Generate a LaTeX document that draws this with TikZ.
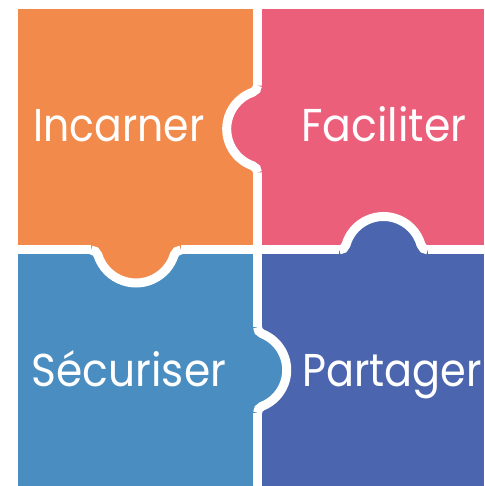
\documentclass[tikz,border=0pt]{standalone}
\usepackage{fontspec}
\setmainfont{Poppins}
\definecolor{corange}{HTML}{F28A4B}
\definecolor{cpink}{HTML}{EC5F7B}
\definecolor{cblue}{HTML}{4A8DC0}
\definecolor{cdblue}{HTML}{4B65AE}
\tikzset{
  gapline/.style={white, line width=9pt, line cap=butt},
  wordtext/.style={text=white, font=\fontsize{46}{50}\selectfont, anchor=base, inner sep=0pt},
}
% #1 X, #2 Y, #3 rotation, #4 radius, #5 centre offset, #6 colour
\newcommand{\puzzletab}[6]{%
  \pgfmathsetmacro{\tabd}{sqrt((#4+7)^2-(#5+7)^2)}%
  \pgfmathsetmacro{\taba}{atan((#5+7)/\tabd)}%
  \pgfmathsetmacro{\tabn}{-\taba}%
  \pgfmathsetmacro{\tabb}{180-\taba}%
  \pgfmathsetmacro{\tabc}{\taba-180}%
  \begin{scope}[shift={(#1,#2)}, rotate=#3]
    \fill[#6] (-\tabd,0) arc[start angle=-90, end angle=\tabn, radius=7]
      arc[start angle=\tabb, end angle=\taba, radius=#4]
      arc[start angle=\tabc, end angle=-90, radius=7]
      -- (\tabd,-50) -- (-\tabd,-50) -- cycle;
    \draw[gapline] (-\tabd,0) arc[start angle=-90, end angle=\tabn, radius=7]
      arc[start angle=\tabb, end angle=\taba, radius=#4]
      arc[start angle=\tabc, end angle=-90, radius=7];
  \end{scope}}
\begin{document}
\begin{tikzpicture}[x=1pt,y=1pt]
  \useasboundingbox (0,0) rectangle (484,486);
  \fill[white] (0,0) rectangle (484,486);
  % pieces
  \fill[corange] (18,236) rectangle (257.5,477);
  \fill[cpink] (257.5,236) rectangle (484,477);
  \fill[cblue] (18,0) rectangle (257.5,236);
  \fill[cdblue] (257.5,0) rectangle (484,236);
  % gaps
  \coordinate (vtop) at (257.5,486);
  \coordinate (vbot) at (257.5,0);
  \coordinate (hleft) at (18,236);
  \coordinate (hright) at (484,236);
  \draw[gapline] (vtop) -- (vbot);
  \draw[gapline] (hleft) -- (hright);
  % tabs
  \puzzletab{257.5}{357}{90}{39}{8.2}{cpink}
  \puzzletab{136}{236}{180}{40}{7}{corange}
  \puzzletab{383.5}{236}{0}{39}{5.5}{cdblue}
  \puzzletab{257.5}{116}{-90}{39}{9.8}{cblue}
  % words
  \node[wordtext, xscale=0.89] (incarner) at (119,344.3) {Incarner};
  \node[wordtext, xscale=0.925] (faciliter) at (384,344.3) {Faciliter};
  \node[wordtext, xscale=0.92] (securiser) at (129,99.5) {Sécuriser};
  \node[wordtext, xscale=0.9] (partager) at (392,99.3) {Partager};
\end{tikzpicture}
\end{document}
